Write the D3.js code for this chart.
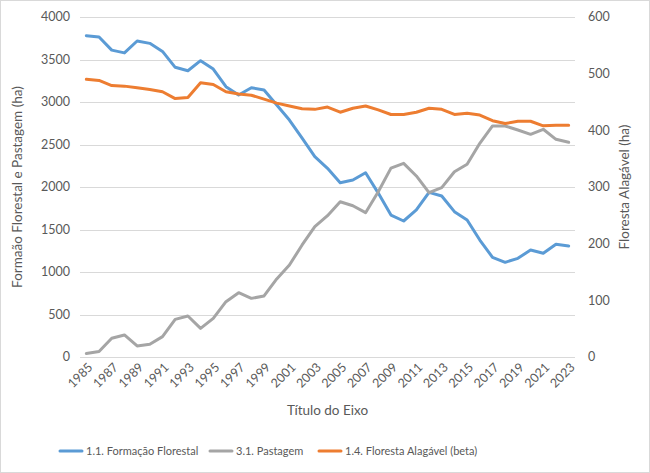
<!DOCTYPE html>
<html>
<head>
<meta charset="utf-8">
<script src="https://cdn.jsdelivr.net/npm/d3@7"></script>
<style>
  body { margin: 0; background: #fff; }
  svg text { font-family: Lato, "Open Sans", sans-serif; fill: #595959; }
</style>
</head>
<body>
<div id="chart"></div>
<script>
const years = d3.range(1985, 2024)

const formacaoFlorestal = [3780, 3765, 3610, 3578, 3718, 3690, 3595, 3408, 3368, 3486,
    3388, 3180, 3082, 3168, 3141, 2965, 2788, 2576, 2357, 2220,
    2051, 2082, 2168, 1928, 1670, 1600, 1730, 1937, 1894, 1710,
    1612, 1376, 1173, 1114, 1161, 1259, 1220, 1326, 1306]

const pastagem = [40, 65, 220, 259, 130, 149, 240, 443, 482, 337,
    455, 651, 757, 690, 718, 918, 1082, 1318, 1533, 1663,
    1827, 1780, 1698, 1945, 2222, 2278, 2130, 1933, 1992, 2180,
    2267, 2514, 2718, 2718, 2670, 2620, 2679, 2561, 2526]

const florestaAlagavel = [490, 488, 479, 478, 475, 472, 468, 456, 458, 484,
    481, 468, 464, 462, 455, 448, 443, 438, 437, 441,
    432, 439, 443, 436, 428, 428, 432, 439, 437, 428,
    430, 427, 417, 412, 416, 416, 408, 409, 409]

const leftTicks = [0, 500, 1000, 1500, 2000, 2500, 3000, 3500, 4000]
const rightTicks = [0, 100, 200, 300, 400, 500, 600]

const series = [
    {name: '1.1. Formação Florestal', values: formacaoFlorestal, color: '#5b9bd5', axis: 'left'},
    {name: '3.1. Pastagem', values: pastagem, color: '#a5a5a5', axis: 'left'},
    {name: '1.4. Floresta Alagável (beta)', values: florestaAlagavel, color: '#ed7d31', axis: 'right'}
]

const width = 650, height = 473
const margin = {top: 17, right: 75, bottom: 116, left: 80}

const svg = d3.select('#chart').append('svg')
    .attr('width', width)
    .attr('height', height)

// chart area border
svg.append('rect')
    .attr('x', 0.5).attr('y', 0.5)
    .attr('width', width - 1).attr('height', height - 1)
    .attr('fill', '#fff')
    .attr('stroke', '#d9d9d9')

const x = d3.scaleBand()
    .domain(years)
    .range([margin.left, width - margin.right])

const yLeft = d3.scaleLinear()
    .domain([0, 4000])
    .range([height - margin.bottom, margin.top])

const yRight = d3.scaleLinear()
    .domain([0, 600])
    .range([height - margin.bottom, margin.top])

const cx = d => x(d) + x.bandwidth() / 2

// gridlines
svg.append('g')
    .selectAll('line')
    .data(leftTicks)
    .join('line')
        .attr('x1', margin.left)
        .attr('x2', width - margin.right)
        .attr('y1', d => Math.round(yLeft(d)) + 0.5)
        .attr('y2', d => Math.round(yLeft(d)) + 0.5)
        .attr('stroke', '#d9d9d9')
        .attr('stroke-width', 1)

// left axis labels
svg.append('g')
    .selectAll('text')
    .data(leftTicks)
    .join('text')
        .attr('x', margin.left - 10)
        .attr('y', d => yLeft(d))
        .attr('dy', '0.35em')
        .attr('text-anchor', 'end')
        .style('font-size', '12.5px')
        .text(d => d)

// right axis labels
svg.append('g')
    .selectAll('text')
    .data(rightTicks)
    .join('text')
        .attr('x', width - margin.right + 13)
        .attr('y', d => yRight(d))
        .attr('dy', '0.35em')
        .attr('text-anchor', 'start')
        .style('font-size', '12.5px')
        .text(d => d)

// x axis labels, every other year, rotated
svg.append('g')
    .selectAll('text')
    .data(years.filter((d, i) => i % 2 === 0))
    .join('text')
        .attr('transform', d => `translate(${cx(d) + 4},${height - margin.bottom + 8}) rotate(-45)`)
        .attr('text-anchor', 'end')
        .attr('dy', '0.35em')
        .style('font-size', '12.5px')
        .text(d => d)

// axis titles
svg.append('text')
    .attr('transform', `translate(22,${(margin.top + height - margin.bottom) / 2}) rotate(-90)`)
    .attr('text-anchor', 'middle')
    .style('font-size', '13.5px')
    .text('Formaão Florestal e Pastagem (ha)')

svg.append('text')
    .attr('transform', `translate(629,${(margin.top + height - margin.bottom) / 2}) rotate(-90)`)
    .attr('text-anchor', 'middle')
    .style('font-size', '13.5px')
    .text('Floresta Alagável (ha)')

svg.append('text')
    .attr('x', (margin.left + width - margin.right) / 2)
    .attr('y', 415)
    .attr('text-anchor', 'middle')
    .style('font-size', '13.5px')
    .text('Título do Eixo')

// lines
const lineLeft = d3.line()
    .x((d, i) => cx(years[i]))
    .y(d => yLeft(d))

const lineRight = d3.line()
    .x((d, i) => cx(years[i]))
    .y(d => yRight(d))

svg.append('g')
    .selectAll('path')
    .data(series)
    .join('path')
        .attr('d', s => s.axis === 'left' ? lineLeft(s.values) : lineRight(s.values))
        .attr('fill', 'none')
        .attr('stroke', s => s.color)
        .attr('stroke-width', 3)
        .attr('stroke-linejoin', 'round')
        .attr('stroke-linecap', 'round')

// legend
const legendX = [60, 210, 319]
const legend = svg.append('g')
    .selectAll('g')
    .data(series)
    .join('g')
        .attr('transform', (s, i) => `translate(${legendX[i]},451)`)

legend.append('line')
    .attr('x1', 0).attr('x2', 22)
    .attr('stroke', s => s.color)
    .attr('stroke-width', 3)
    .attr('stroke-linecap', 'round')

legend.append('text')
    .attr('x', 26)
    .attr('dy', '0.35em')
    .style('font-size', '11px')
    .text(s => s.name)
</script>
</body>
</html>
